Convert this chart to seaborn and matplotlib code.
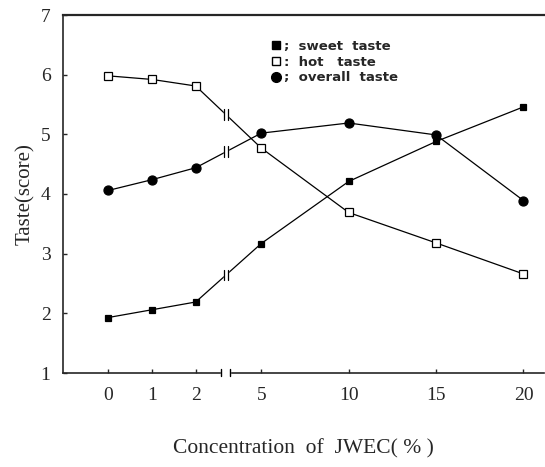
import numpy as np
import pandas as pd
import matplotlib
matplotlib.use("Agg")
import matplotlib.pyplot as plt
import seaborn as sns
from matplotlib.lines import Line2D
from matplotlib.patches import Rectangle

# ---- data ----
concentration = [0, 1, 2, 5, 10, 15, 20]
tick_labels = ["0", "1", "2", "5", "10", "15", "20"]
sweet = [1.93, 2.06, 2.19, 3.17, 4.21, 4.88, 5.46]
hot = [5.98, 5.92, 5.81, 4.77, 3.69, 3.18, 2.66]
overall = [4.06, 4.24, 4.44, 5.02, 5.19, 4.99, 3.89]
series_names = ["sweet taste", "hot taste", "overall taste"]

sns.set_style("ticks")
plt.rcParams["font.family"] = ["Liberation Serif", "DejaVu Serif"]


def xscale(c):
    """broken axis: 0-2 linear, then 5-20 compressed"""
    c = np.asarray(c, dtype=float)
    return np.where(c <= 2, c, 3.5 + (c - 5) * 0.4)


df = pd.DataFrame({
    "conc": concentration * 3,
    "score": sweet + hot + overall,
    "series": np.repeat(series_names, len(concentration)),
})
df["pos"] = xscale(df["conc"])

fig = plt.figure(figsize=(5.45, 4.67), dpi=100)
ax = fig.add_axes([63 / 545, 1 - 373 / 467, (544 - 63) / 545, (373 - 15) / 467])

styles = {
    "sweet taste": dict(marker="s", markersize=5, markerfacecolor="black"),
    "hot taste": dict(marker="s", markersize=6, markerfacecolor="white"),
    "overall taste": dict(marker="o", markersize=6.5, markerfacecolor="black"),
}
for name in series_names:
    sub = df[df["series"] == name]
    sns.lineplot(data=sub, x="pos", y="score", ax=ax, color="black", lw=0.9,
                 markeredgecolor="black", markeredgewidth=0.9, legend=False,
                 zorder=3, **styles[name])

ax.set_xlim(-1.037, 9.97)
ax.set_ylim(1, 7)
ax.set_xticks(xscale(concentration))
ax.set_xticklabels(tick_labels)
ax.set_yticks(range(1, 8))
ax.tick_params(direction="in", length=3, width=1, labelsize=14)
ax.tick_params(axis="x", pad=10)
ax.tick_params(axis="y", pad=9)
for s in ["left", "bottom"]:
    ax.spines[s].set_linewidth(1.2)
ax.spines["top"].set_linewidth(1.6)
ax.spines["right"].set_visible(False)

ax.set_xlabel("Concentration  of  JWEC( % )", fontsize=15.5, labelpad=25)
ax.set_ylabel("Taste(score)", fontsize=15, labelpad=4)

# break marks on the lines
bx = 2.69
gap = 0.05
for vals in (sweet, hot, overall):
    y2 = vals[2]
    y5 = vals[3]
    yb = y2 + (y5 - y2) * (bx - 2) / 1.5
    ax.add_patch(Rectangle((bx - gap, yb - 0.15), 2 * gap, 0.3, color="white", zorder=4))
    for xx in (bx - gap, bx + gap):
        ax.plot([xx, xx], [yb - 0.09, yb + 0.09], color="black", lw=0.9, zorder=5)

# break on x axis
ax.add_patch(Rectangle((bx - 0.1, 0.97), 0.2, 0.06, color="white", zorder=6, clip_on=False))
for xx in (bx - 0.1, bx + 0.1):
    ax.plot([xx, xx], [0.95, 1.06], color="black", lw=1.0, zorder=7, clip_on=False)

# legend
handles = [
    Line2D([], [], ls="none", marker="s", markersize=5.5, mfc="black", mec="black"),
    Line2D([], [], ls="none", marker="s", markersize=5.5, mfc="white", mec="black"),
    Line2D([], [], ls="none", marker="o", markersize=7, mfc="black", mec="black"),
]
labels = [";  sweet  taste", ":  hot   taste", ";  overall  taste"]
ax.legend(handles, labels, loc="upper left", bbox_to_anchor=(0.42, 0.945),
          frameon=False, handlelength=0.8, handletextpad=0.25, labelspacing=0.2,
          borderaxespad=0, prop={"family": "DejaVu Sans", "size": 9.5, "weight": "bold"})

fig.savefig("out.png", dpi=100)
